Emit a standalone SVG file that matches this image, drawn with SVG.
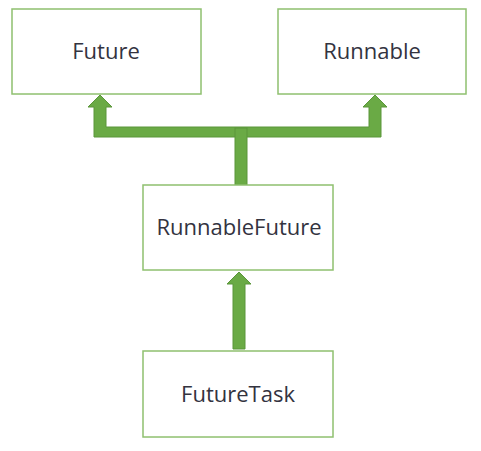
<svg xmlns="http://www.w3.org/2000/svg" width="481" height="451" viewBox="0 0 481 451">
<style>
.box{fill:#fff;stroke:#8fc06f;stroke-width:1.5}
.lbl{font-family:"Open Sans","Liberation Sans",sans-serif;font-size:22px;font-weight:500;fill:#33333f;text-anchor:middle;dominant-baseline:central}
.arr{fill:#6aaa45;stroke:#5a963a;stroke-width:1;stroke-linejoin:miter}
</style>
<rect width="481" height="451" fill="#fff"/>
<g id="connectors">
<polygon class="arr" points="100,95 112,107 106,107 106,127 369,127 369,107 363,107 375,95 387,107 381,107 381,137 94,137 94,107 88,107"/>
<rect class="arr" x="235" y="128" width="12" height="57"/>
<polygon class="arr" points="239,272 251,284 245,284 245,349 233,349 233,284 227,284"/>
</g>
<g id="future"><rect class="box" x="12" y="9" width="189" height="85"/><text class="lbl" x="106" y="50">Future</text></g>
<g id="runnable"><rect class="box" x="278" y="9" width="188" height="85"/><text class="lbl" x="372" y="50">Runnable</text></g>
<g id="runnablefuture"><rect class="box" x="143" y="185" width="190" height="85"/><text class="lbl" x="239" y="226">RunnableFuture</text></g>
<g id="futuretask"><rect class="box" x="143" y="351" width="190" height="86"/><text class="lbl" x="238" y="393">FutureTask</text></g>
</svg>
